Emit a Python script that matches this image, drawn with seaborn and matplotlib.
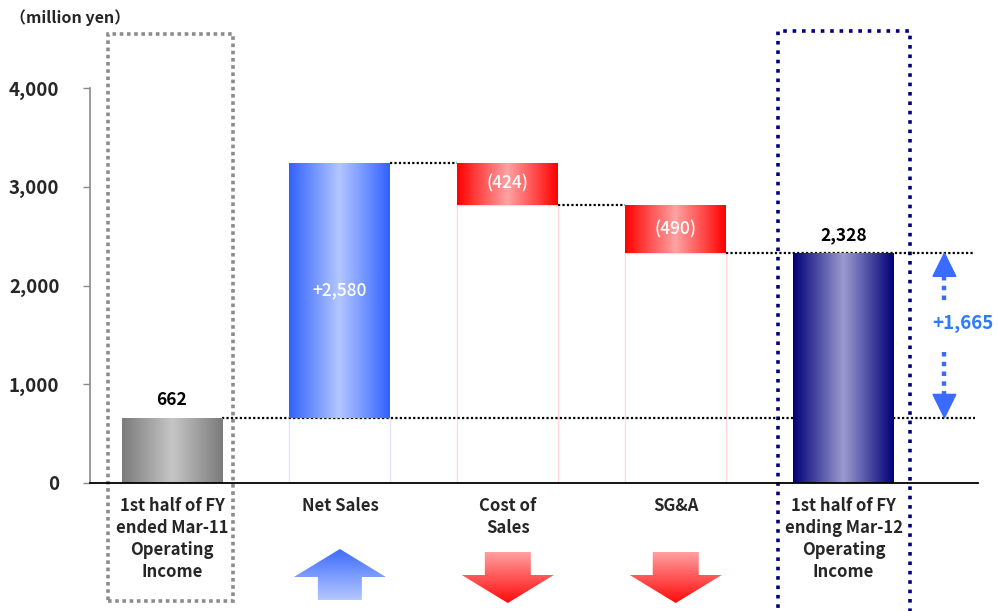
import numpy as np
import pandas as pd
import matplotlib
matplotlib.use("Agg")
import matplotlib.pyplot as plt
import matplotlib.transforms as mtransforms
from matplotlib.patches import Polygon, Rectangle
from matplotlib.colors import to_rgb
import seaborn as sns

# ---- data -------------------------------------------------------------
categories = [
    "1st half of FY\nended Mar-11\nOperating\nIncome",
    "Net Sales",
    "Cost of\nSales",
    "SG&A",
    "1st half of FY\nending Mar-12\nOperating\nIncome",
]
changes = [662, 2580, -424, -490, 2328]          # start, deltas, end total
value_labels = ["662", "+2,580", "(424)", "(490)", "2,328"]
difference_label = "+1,665"
y_ticks = [0, 1000, 2000, 3000, 4000]
unit_label = "（million yen）"

# gradient colours (edge, centre) per bar
edge_cols = ["#7b7b7b", "#3162ff", "#ff0000", "#ff0000", "#000078"]
centre_cols = ["#c6c6c6", "#b3c6ff", "#ffa3a3", "#ffa3a3", "#9b9bcf"]

# ---- waterfall geometry from the values ------------------------------
bottoms, tops = [], []
running = 0
for i, v in enumerate(changes):
    if i == 0 or i == len(changes) - 1:
        b, t = 0, v
        running = v
    else:
        new = running + v
        b, t = min(running, new), max(running, new)
        running = new
    bottoms.append(b)
    tops.append(t)

df = pd.DataFrame({"cat": categories, "top": tops})

sns.set_theme(style="white")
plt.rcParams["font.family"] = ["Noto Sans CJK JP", "DejaVu Sans"]

W, H = 998, 611
XLIM = (-0.488, 4.8)
YLIM = (0, 4000)
fig = plt.figure(figsize=(W / 100, H / 100), dpi=100)
ax = fig.add_axes([90 / W, (H - 483) / H, (978 - 90) / W, (483 - 88) / H])
ax.set_xlim(*XLIM)
ax.set_ylim(*YLIM)
ax.set_autoscale_on(False)

sns.barplot(data=df, x="cat", y="top", width=0.6, ax=ax, color="white",
            edgecolor="none", linewidth=0, zorder=3)
ax.set_xlim(*XLIM)
ax.set_ylim(*YLIM)
ax.set_autoscale_on(False)


def hgrad(edge, centre, n=256):
    e = np.array(to_rgb(edge))
    c = np.array(to_rgb(centre))
    t = np.linspace(0, 1, n)
    w = 1 - np.abs(2 * t - 1)
    img = e[None, :] * (1 - w[:, None]) + c[None, :] * w[:, None]
    return img[None, :, :]


def vgrad(top, bottom, n=128):
    a = np.array(to_rgb(top))
    b = np.array(to_rgb(bottom))
    t = np.linspace(0, 1, n)
    img = a[None, :] * (1 - t[:, None]) + b[None, :] * t[:, None]
    return img[:, None, :]


bars = [p for p in ax.patches if isinstance(p, Rectangle)][:len(categories)]
for i, p in enumerate(bars):
    p.set_y(bottoms[i])
    p.set_height(tops[i] - bottoms[i])
    p.set_facecolor("none")
    x0 = p.get_x()
    w = p.get_width()
    im = ax.imshow(hgrad(edge_cols[i], centre_cols[i]), aspect="auto",
                   extent=[x0, x0 + w, bottoms[i], tops[i]], zorder=3,
                   interpolation="bilinear")
    im.set_clip_path(p)
    # faint outline of the hidden base under floating bars
    if bottoms[i] > 0:
        base_col = "#e4e4ff" if changes[i] > 0 else "#ffd9df"
        ax.add_patch(Rectangle((x0, 0), w, bottoms[i], fill=False,
                               edgecolor=base_col, lw=1, zorder=2))

ax.set_xlim(*XLIM)
ax.set_ylim(*YLIM)

# connector lines between bars
half = 0.3
levels = []
running = 0
for i, v in enumerate(changes[:-1]):
    running = v if i == 0 else running + v
    levels.append(running)
for i, lv in enumerate(levels):
    x_end = i + 1 - half
    if i == 0 or i == len(levels) - 1:
        x_end = 4.78
    ax.plot([i + half, x_end], [lv, lv], color="black", lw=1.6,
            ls=(0, (1, 1)), zorder=2.5, solid_capstyle="butt")

# value labels
for i, lab in enumerate(value_labels):
    if i == 0 or i == len(value_labels) - 1:
        ax.text(i, tops[i] + 90, lab, ha="center", va="bottom",
                fontsize=12.5, fontweight="bold", color="black", zorder=5)
    else:
        ax.text(i, (tops[i] + bottoms[i]) / 2, lab, ha="center",
                va="center", fontsize=12.5, fontweight="medium",
                color="white", zorder=5)

# change between the two totals
ax_x = 4.6
start, end = changes[0], changes[-1]
ax.plot([ax_x, ax_x], [end - 230, 1800], color="#3a6bff", lw=3.2,
        ls=(0, (1, 1.2)), zorder=5, clip_on=False)
ax.plot([ax_x, ax_x], [1330, start + 230], color="#3a6bff", lw=3.2,
        ls=(0, (1, 1.2)), zorder=5, clip_on=False)
ax.add_patch(Polygon([[ax_x, end], [ax_x - 0.068, end - 235],
                      [ax_x + 0.068, end - 235]], closed=True,
                     color="#3a6bff", zorder=5, clip_on=False))
ax.add_patch(Polygon([[ax_x, start], [ax_x - 0.068, start + 235],
                      [ax_x + 0.068, start + 235]], closed=True,
                     color="#3a6bff", zorder=5, clip_on=False))
ax.text(4.71, 1620, difference_label, ha="center", va="center",
        fontsize=13.5, fontweight="bold", color="#2f7bff", zorder=6,
        clip_on=False)

# axes styling
for s in ["top", "right"]:
    ax.spines[s].set_visible(False)
ax.spines["left"].set_color("#8a8a8a")
ax.spines["left"].set_linewidth(1.2)
ax.spines["bottom"].set_color("black")
ax.spines["bottom"].set_linewidth(1.3)
ax.spines["bottom"].set_zorder(6)
ax.set_yticks(y_ticks)
ax.set_yticklabels([f"{t:,}" for t in y_ticks])
ax.tick_params(axis="y", left=True, length=5, width=1, color="#8a8a8a",
               pad=17, labelsize=13.5)
for t in ax.get_yticklabels():
    t.set_fontweight("bold")
ax.set_xticks(range(len(categories)))
ax.set_xticklabels(categories, fontsize=12, fontweight="bold",
                   linespacing=1.3, va="top")
ax.tick_params(axis="x", bottom=False, length=0, pad=10)
ax.set_xlabel("")
ax.set_ylabel("")

fig.text(10 / W, 1 - 18 / H, unit_label, ha="left", va="center",
         fontsize=11.5, fontweight="bold")

# dotted frames around the two totals
blend = mtransforms.blended_transform_factory(ax.transData, ax.transAxes)
fr0 = Rectangle((-0.381, -0.299), 0.744, 1.436, fill=False,
                edgecolor="#8c8c8c", lw=2.6, ls=(0, (1, 1)),
                transform=blend, clip_on=False, zorder=1)
ax.add_patch(fr0)
fr1 = Rectangle((3.607, -0.40), 0.786, 1.544, fill=False,
                edgecolor="#000080", lw=2.6, ls=(0, (1, 1.6)),
                transform=blend, clip_on=False, zorder=1)
ax.add_patch(fr1)

# direction arrows under the change categories, drawn on a full-figure
# overlay in pixel units, centred under each category
ov = fig.add_axes([0, 0, 1, 1], zorder=10)
ov.set_xlim(0, W)
ov.set_ylim(H, 0)
ov.axis("off")
ov.set_autoscale_on(False)
fig.canvas.draw()


def cat_px(i):
    return ax.transData.transform((i, 0))[0] * W / fig.bbox.width


def arrow(i, up, top_col, bot_col):
    cx = cat_px(i)
    hw, sw = 46, 22   # head and shaft half widths (px)
    if up:
        tip, head_base, shaft_end = 549, 577, 600
        pts = [[cx, tip], [cx - hw, head_base], [cx - sw, head_base],
               [cx - sw, shaft_end], [cx + sw, shaft_end],
               [cx + sw, head_base], [cx + hw, head_base]]
        y_top, y_bot = tip, shaft_end
    else:
        shaft_top, head_base, tip = 552, 575, 603
        pts = [[cx - 23, shaft_top], [cx + 23, shaft_top],
               [cx + 23, head_base], [cx + hw, head_base], [cx, tip],
               [cx - hw, head_base], [cx - 23, head_base]]
        y_top, y_bot = shaft_top, tip
    poly = Polygon(pts, closed=True, facecolor="none", edgecolor="none")
    ov.add_patch(poly)
    im = ov.imshow(vgrad(top_col, bot_col), aspect="auto",
                   extent=[cx - hw, cx + hw, y_bot, y_top],
                   interpolation="bilinear", zorder=4)
    im.set_clip_path(poly)


for i, v in enumerate(changes):
    if 0 < i < len(changes) - 1:
        if v > 0:
            arrow(i, True, "#3d6cff", "#b5c7ff")
        else:
            arrow(i, False, "#ffa0a0", "#ff0a0a")

ov.set_xlim(0, W)
ov.set_ylim(H, 0)

fig.savefig("out.png", dpi=100)
